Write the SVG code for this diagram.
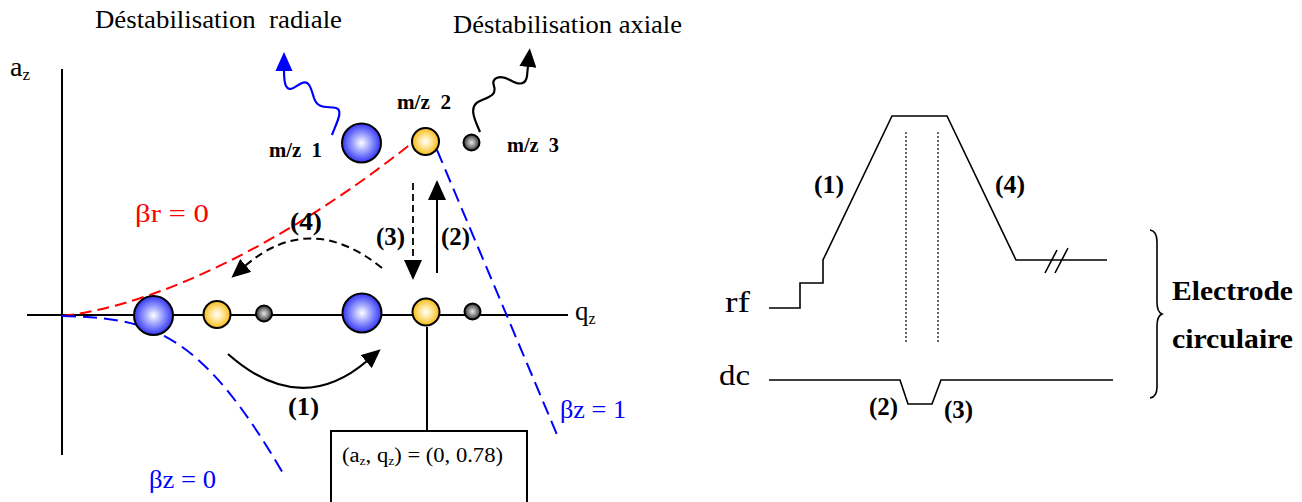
<svg xmlns="http://www.w3.org/2000/svg" width="1302" height="502" viewBox="0 0 1302 502">
<style>
text{font-family:"Liberation Serif","Times New Roman",serif;fill:#000}
.b{font-weight:bold}
.ln{fill:none;stroke:#000;stroke-width:2}
.thin{fill:none;stroke:#000;stroke-width:1.6}
.ball{stroke:#000;stroke-width:2}
.red{fill:none;stroke:#ff0000;stroke-width:2;stroke-dasharray:12 6}
.blue{fill:none;stroke:#0000ff;stroke-width:2;stroke-dasharray:14 7}
</style>
<defs>
<radialGradient id="gb" cx="0.5" cy="0.5" r="0.55">
<stop offset="0" stop-color="#ffffff"/><stop offset="0.35" stop-color="#aab0ff"/><stop offset="1" stop-color="#2020f0"/>
</radialGradient>
<radialGradient id="gy" cx="0.5" cy="0.5" r="0.55">
<stop offset="0" stop-color="#ffffff"/><stop offset="0.35" stop-color="#ffe9a6"/><stop offset="1" stop-color="#f3b300"/>
</radialGradient>
<radialGradient id="gg" cx="0.5" cy="0.5" r="0.55">
<stop offset="0" stop-color="#e8e8e8"/><stop offset="0.4" stop-color="#999999"/><stop offset="1" stop-color="#222222"/>
</radialGradient>
<marker id="ah" viewBox="0 0 20 20" markerWidth="20" markerHeight="20" refX="1" refY="10" orient="auto" markerUnits="userSpaceOnUse">
<path d="M0,1 L20,10 L0,19 z" fill="#000" stroke="none"/>
</marker>
<marker id="ahs" viewBox="0 0 20 18" markerWidth="19" markerHeight="17" refX="1" refY="9" orient="auto" markerUnits="userSpaceOnUse">
<path d="M0,0 L20,9 L0,18 z" fill="#000" stroke="none"/>
</marker>
<marker id="ahb" viewBox="0 0 20 18" markerWidth="19" markerHeight="18" refX="1" refY="9" orient="auto" markerUnits="userSpaceOnUse">
<path d="M0,0 L20,9 L0,18 z" fill="#0000ff" stroke="none"/>
</marker>
</defs>

<g id="titles">
<text x="95" y="28" font-size="25" textLength="247" lengthAdjust="spacingAndGlyphs" xml:space="preserve">Déstabilisation  radiale</text>
<text x="453" y="33" font-size="25" textLength="229" lengthAdjust="spacingAndGlyphs">Déstabilisation axiale</text>
</g>

<g id="axes">
<line class="ln" x1="62" y1="69" x2="62" y2="455"/>
<line class="ln" x1="27" y1="315" x2="568" y2="315"/>
<text x="10" y="76" font-size="28">a<tspan font-size="17" dy="4">z</tspan></text>
<text x="575" y="320" font-size="27">q<tspan font-size="16" dy="4">z</tspan></text>
</g>

<g id="connectors">
<path class="red" d="M62,316 C160,305 290,240 412,143"/>
<path class="blue" d="M62,316 C150,318 200,330 284,475"/>
<path class="blue" d="M437,150 L558,437"/>
<path d="M332,135 C336,124 344,110 336,108 C328,106 318,110 314,98 C311,88 309,80 302,83 C295,86 290,93 286,86 C284,82 284,76 284,70" fill="none" stroke="#0000ff" stroke-width="2.2" marker-end="url(#ahb)"/>
<path d="M480,132 C476,122 468,108 478,102 C488,97 497,96 494,86 C491,78 500,74 510,80 C520,86 526,84 527,76 L528,66" fill="none" stroke="#000" stroke-width="2.2" marker-end="url(#ahs)"/>
<line x1="413" y1="183" x2="413" y2="261" stroke="#000" stroke-width="1.8" stroke-dasharray="7 4" marker-end="url(#ah)"/>
<line x1="437" y1="273" x2="437" y2="199" stroke="#000" stroke-width="2" marker-end="url(#ah)"/>
<path d="M382,268 Q310,210 245,266" fill="none" stroke="#000" stroke-width="2" stroke-dasharray="8 5" marker-end="url(#ahs)"/>
<path d="M228,354 Q300,418 367,361" fill="none" stroke="#000" stroke-width="2.2" marker-end="url(#ahs)"/>
<line class="ln" x1="427" y1="327" x2="427" y2="431"/>
</g>

<g id="ions-top">
<circle class="ball" cx="361.5" cy="143" r="19.5" fill="url(#gb)"/>
<circle class="ball" cx="425.5" cy="141.5" r="13.5" fill="url(#gy)"/>
<circle class="ball" cx="471.5" cy="142.5" r="8" fill="url(#gg)"/>
<text class="b" x="269" y="157" font-size="21" textLength="53" lengthAdjust="spacingAndGlyphs" xml:space="preserve">m/z  1</text>
<text class="b" x="397" y="109" font-size="21" textLength="54" lengthAdjust="spacingAndGlyphs" xml:space="preserve">m/z  2</text>
<text class="b" x="507" y="152" font-size="21" textLength="52" lengthAdjust="spacingAndGlyphs" xml:space="preserve">m/z  3</text>
</g>

<g id="ions-axis">
<circle class="ball" cx="153.5" cy="315.5" r="19.5" fill="url(#gb)"/>
<circle class="ball" cx="217" cy="314.5" r="13.5" fill="url(#gy)"/>
<circle class="ball" cx="264" cy="313.5" r="8" fill="url(#gg)"/>
<circle class="ball" cx="362" cy="313" r="19.5" fill="url(#gb)"/>
<circle class="ball" cx="426" cy="312" r="13.5" fill="url(#gy)"/>
<circle class="ball" cx="472.5" cy="311.5" r="8" fill="url(#gg)"/>
</g>

<g id="labels-left">
<text x="135" y="222" font-size="26" style="fill:#ff0000" textLength="74" lengthAdjust="spacingAndGlyphs">βr = 0</text>
<text x="560" y="418" font-size="26" style="fill:#0000ff" textLength="66" lengthAdjust="spacingAndGlyphs">βz = 1</text>
<text x="149" y="488" font-size="26" style="fill:#0000ff" textLength="67" lengthAdjust="spacingAndGlyphs">βz = 0</text>
<text class="b" x="290" y="230" font-size="25" textLength="32" lengthAdjust="spacingAndGlyphs">(4)</text>
<text class="b" x="376" y="245" font-size="25" textLength="29" lengthAdjust="spacingAndGlyphs">(3)</text>
<text class="b" x="441" y="245" font-size="25" textLength="29" lengthAdjust="spacingAndGlyphs">(2)</text>
<text class="b" x="288" y="415" font-size="25" textLength="31" lengthAdjust="spacingAndGlyphs">(1)</text>
</g>

<g id="box">
<rect x="331" y="431" width="196" height="80" fill="#fff" stroke="#000" stroke-width="2"/>
<text x="342" y="462" font-size="20" textLength="161" lengthAdjust="spacingAndGlyphs">(a<tspan font-size="12" dy="3">z</tspan><tspan dy="-3">, q</tspan><tspan font-size="12" dy="3">z</tspan><tspan dy="-3">) = (0, 0.78)</tspan></text>
</g>

<g id="signals">
<path class="thin" d="M769,308 H800 V283 H823 V260 L892,116 H947 L1016,260 H1107"/>
<line x1="906" y1="132" x2="906" y2="343" stroke="#000" stroke-width="1.2" stroke-dasharray="2 2"/>
<line x1="938" y1="132" x2="938" y2="343" stroke="#000" stroke-width="1.2" stroke-dasharray="2 2"/>
<path class="thin" d="M1045,273 L1057,250 M1055,273 L1068,248"/>
<path class="thin" d="M769,380 H900 L908,404 H932 L941,380 H1113"/>
<path class="thin" d="M1150,230 Q1157,231 1157,242 V302 Q1157,312 1162,314 Q1157,316 1157,326 V387 Q1157,397 1150,398"/>
<text x="725" y="312" font-size="30" textLength="25" lengthAdjust="spacingAndGlyphs">rf</text>
<text x="719" y="385" font-size="30" textLength="31" lengthAdjust="spacingAndGlyphs">dc</text>
<text class="b" x="814" y="193" font-size="25" textLength="30" lengthAdjust="spacingAndGlyphs">(1)</text>
<text class="b" x="995" y="193" font-size="25" textLength="30" lengthAdjust="spacingAndGlyphs">(4)</text>
<text class="b" x="869" y="415" font-size="25" textLength="29" lengthAdjust="spacingAndGlyphs">(2)</text>
<text class="b" x="944" y="418" font-size="25" textLength="29" lengthAdjust="spacingAndGlyphs">(3)</text>
<text class="b" x="1172" y="300" font-size="27" textLength="121" lengthAdjust="spacingAndGlyphs">Electrode</text>
<text class="b" x="1172" y="348" font-size="27" textLength="121" lengthAdjust="spacingAndGlyphs">circulaire</text>
</g>
</svg>
